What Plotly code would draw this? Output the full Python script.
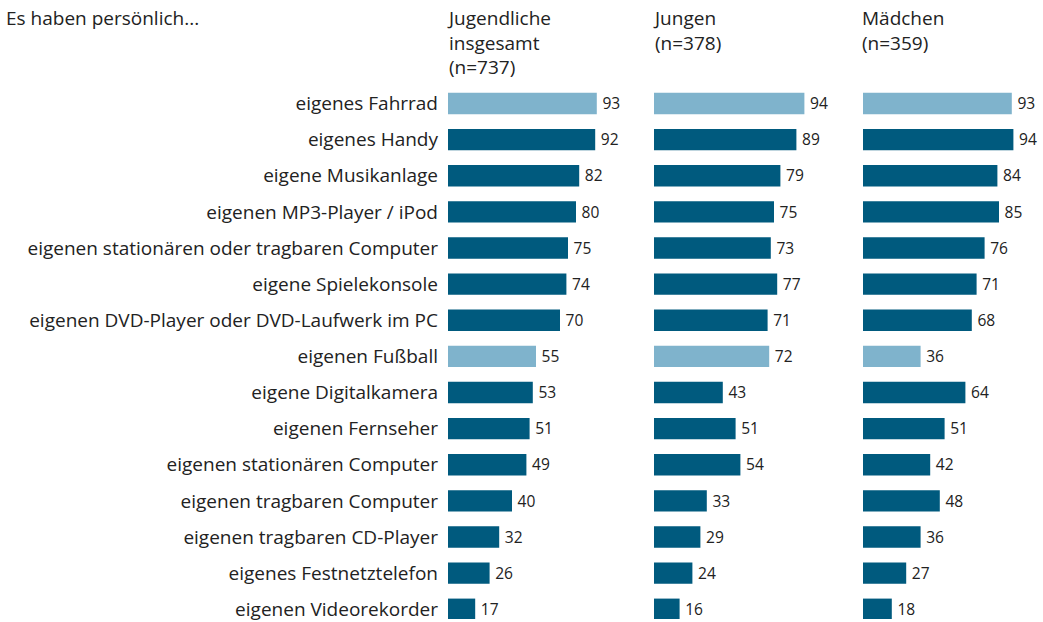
import plotly.graph_objects as go

W, H = 1043, 622

items = [
    "eigenes Fahrrad", "eigenes Handy", "eigene Musikanlage",
    "eigenen MP3-Player / iPod", "eigenen stationären oder tragbaren Computer",
    "eigene Spielekonsole", "eigenen DVD-Player oder DVD-Laufwerk im PC",
    "eigenen Fußball", "eigene Digitalkamera", "eigenen Fernseher",
    "eigenen stationären Computer", "eigenen tragbaren Computer",
    "eigenen tragbaren CD-Player", "eigenes Festnetztelefon", "eigenen Videorekorder",
]
gesamt = [93, 92, 82, 80, 75, 74, 70, 55, 53, 51, 49, 40, 32, 26, 17]
jungen = [94, 89, 79, 75, 73, 77, 71, 72, 43, 51, 54, 33, 29, 24, 16]
maedchen = [93, 94, 84, 85, 76, 71, 68, 36, 64, 51, 42, 48, 36, 27, 18]
highlight = ["eigenes Fahrrad", "eigenen Fußball"]

panels = [
    ("Jugendliche<br>insgesamt<br>(n=737)", gesamt, 448),
    ("Jungen<br>(n=378)", jungen, 654),
    ("Mädchen<br>(n=359)", maedchen, 863),
]

LIGHT = "#7fb3cc"
DARK = "#005a7e"
TXT = "#222222"
FONT = "Open Sans"
FS = 19

# row geometry (pixels): first bar centre at 104, step ~36.3
step = 36.3
y0 = 104
ypos = list(range(len(items)))
yrange = [(H - y0) / step, -y0 / step]

colors = [LIGHT if it in highlight else DARK for it in items]

fig = go.Figure()
pxu = 1.6  # pixels per percent
for i, (title, vals, left) in enumerate(panels):
    ax = "" if i == 0 else str(i + 1)
    fig.add_trace(go.Bar(
        x=vals, y=ypos, orientation="h",
        marker=dict(color=colors, line=dict(width=0)),
        width=0.59,
        text=["\u2009" + str(v) for v in vals], textposition="outside",
        textfont=dict(family=FONT, size=FS, color=TXT),
        cliponaxis=False, showlegend=False, hoverinfo="skip",
        xaxis="x" + ax, yaxis="y" + ax,
    ))
    dom = [left / W, (left + 100 * pxu) / W]
    fig.layout["xaxis" + ax] = dict(domain=dom, range=[0, 100], visible=False,
                                    anchor="y" + ax)
    fig.layout["yaxis" + ax] = dict(
        domain=[0, 1], range=yrange, anchor="x" + ax,
        showgrid=False, zeroline=False, showline=False,
        tickvals=ypos, ticktext=items if i == 0 else [""] * len(items),
        showticklabels=(i == 0), ticks="",
        ticklabelstandoff=9, ticklabeloverflow="allow",
        tickfont=dict(family=FONT, size=FS, color=TXT),
    )
    fig.add_annotation(text=title, x=(left - 3) / W, y=1 - 3 / H, xref="paper",
                       yref="paper", xanchor="left", yanchor="top",
                       align="left", showarrow=False,
                       font=dict(family=FONT, size=FS, color=TXT))

fig.add_annotation(text="Es haben persönlich...", x=4 / W, y=1 - 3 / H,
                   xref="paper", yref="paper", xanchor="left", yanchor="top",
                   align="left", showarrow=False,
                   font=dict(family=FONT, size=FS, color=TXT))

fig.update_layout(
    width=W, height=H,
    margin=dict(l=0, r=0, t=0, b=0),
    paper_bgcolor="white", plot_bgcolor="white",
    font=dict(family=FONT, size=FS, color=TXT),
)

fig.write_html("out.html", config={"displayModeBar": False},
               post_script="document.body.style.margin='0';")
